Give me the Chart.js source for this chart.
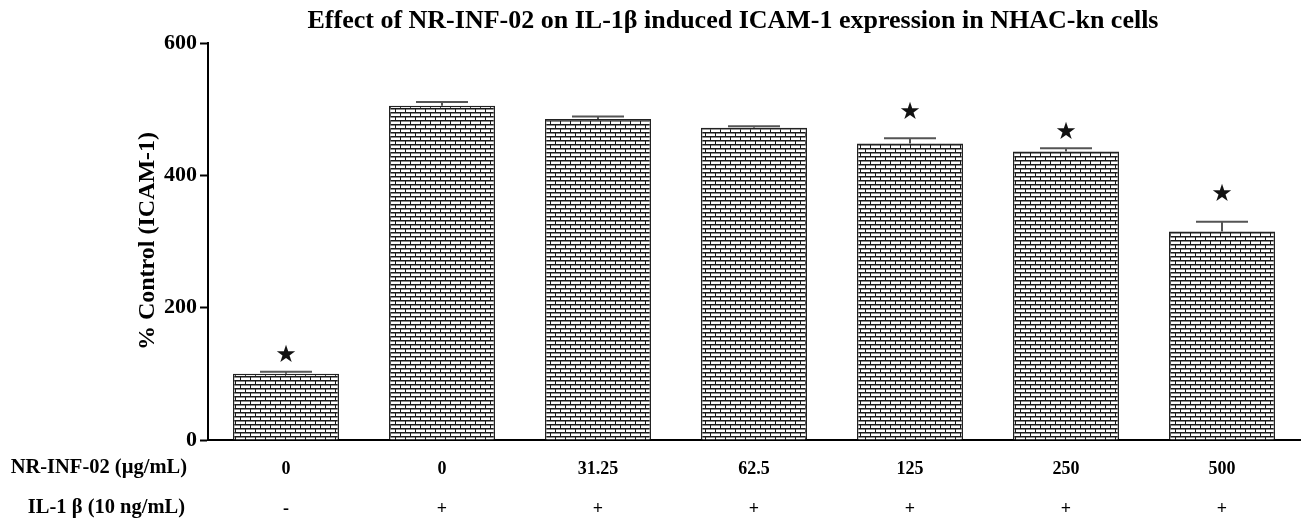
<!DOCTYPE html>
<html>
<head>
<meta charset="utf-8">
<script src="https://cdn.jsdelivr.net/npm/chart.js@4.4.1/dist/chart.umd.min.js"></script>
<style>
html,body{margin:0;padding:0;background:#fff;}
#wrap{width:1307px;height:524px;}
</style>
</head>
<body>
<div id="wrap"><canvas id="c" width="1307" height="524"></canvas></div>
<script>
// ---- data ----
const doses = ['0', '0', '31.25', '62.5', '125', '250', '500'];
const il1b = ['-', '+', '+', '+', '+', '+', '+'];
const values = [100, 505, 485, 472, 448, 436, 315];
const errTop = [103, 511, 489, 474, 456, 441, 330];
const starAt = [127, null, null, null, 495, 465, 370];
const yTicks = [0, 200, 400, 600];
const titleText = 'Effect of NR-INF-02 on IL-1\u03b2 induced ICAM-1 expression in NHAC-kn cells';
const yTitle = '% Control (ICAM-1)';
const rowLabels = ['NR-INF-02 (\u00b5g/mL)', 'IL-1 \u03b2 (10 ng/mL)'];

const SERIF = '"Liberation Serif", "Times New Roman", serif';

function brickPattern() {
  const c = document.createElement('canvas');
  c.width = 10; c.height = 8;
  const g = c.getContext('2d');
  g.fillStyle = '#fff'; g.fillRect(0, 0, 10, 8);
  g.fillStyle = '#8a8a8a';
  g.fillRect(0, 1, 10, 1); g.fillRect(0, 5, 10, 1);
  g.fillStyle = '#1a1a1a';
  g.fillRect(0, 0, 10, 1); g.fillRect(0, 4, 10, 1);
  g.fillRect(0, 0, 1, 4); g.fillRect(5, 4, 1, 4);
  return g.createPattern(c, 'repeat');
}

const overlay = {
  id: 'overlay',
  afterDatasetsDraw(chart) {
    const ctx = chart.ctx, y = chart.scales.y;
    const meta = chart.getDatasetMeta(0);
    ctx.save();
    // error bars
    ctx.strokeStyle = '#555'; ctx.lineWidth = 2;
    meta.data.forEach((bar, i) => {
      const cx = bar.x, yt = y.getPixelForValue(errTop[i]), yb = y.getPixelForValue(values[i]);
      ctx.beginPath();
      ctx.moveTo(cx, yb); ctx.lineTo(cx, yt);
      ctx.moveTo(cx - 26, yt); ctx.lineTo(cx + 26, yt);
      ctx.stroke();
    });
    // stars
    ctx.fillStyle = '#111';
    ctx.font = '24px "DejaVu Sans"';
    ctx.textAlign = 'center'; ctx.textBaseline = 'middle';
    meta.data.forEach((bar, i) => {
      if (starAt[i] != null) ctx.fillText('\u2605', bar.x, y.getPixelForValue(starAt[i]));
    });
    // title
    ctx.fillStyle = '#000';
    ctx.font = 'bold 26px ' + SERIF;
    ctx.fillText(titleText, 733, 21);
    // row labels
    ctx.font = 'bold 20.5px ' + SERIF;
    ctx.textAlign = 'right';
    ctx.fillText(rowLabels[0], 187, 468);
    ctx.fillText(rowLabels[1], 185, 508);
    // y title
    ctx.translate(148, 241);
    ctx.rotate(-Math.PI / 2);
    ctx.textAlign = 'center';
    ctx.font = 'bold 24px ' + SERIF;
    ctx.fillText(yTitle, 0, 0);
    ctx.restore();
  }
};

new Chart(document.getElementById('c'), {
  type: 'bar',
  data: {
    labels: doses.map((d, i) => [d, il1b[i]]),
    datasets: [{
      data: values,
      backgroundColor: brickPattern(),
      borderColor: '#222',
      borderWidth: 1.5,
      barPercentage: 0.68,
      categoryPercentage: 1
    }]
  },
  options: {
    responsive: false,
    animation: false,
    layout: { padding: { top: 43, right: 7, left: 0, bottom: 0 } },
    plugins: { legend: { display: false }, tooltip: { enabled: false }, title: { display: false } },
    scales: {
      x: {
        grid: { display: false, drawTicks: false },
        border: { color: '#000', width: 2 },
        ticks: {
          color: '#000', padding: 10,
          font: { family: SERIF, size: 18, weight: 'bold', lineHeight: 2.2 },
          maxRotation: 0, autoSkip: false
        },
        afterFit(s) { s.height = 84; }
      },
      y: {
        min: 0, max: 600,
        afterBuildTicks(s) { s.ticks = yTicks.map(v => ({ value: v })); },
        grid: { drawOnChartArea: false, drawTicks: true, tickLength: 8, tickColor: '#000', tickWidth: 2 },
        border: { color: '#000', width: 2 },
        ticks: { color: '#000', padding: 3, font: { family: SERIF, size: 22, weight: 'bold' } },
        afterFit(s) { s.width = 208; }
      }
    }
  },
  plugins: [overlay]
});
</script>
</body>
</html>
